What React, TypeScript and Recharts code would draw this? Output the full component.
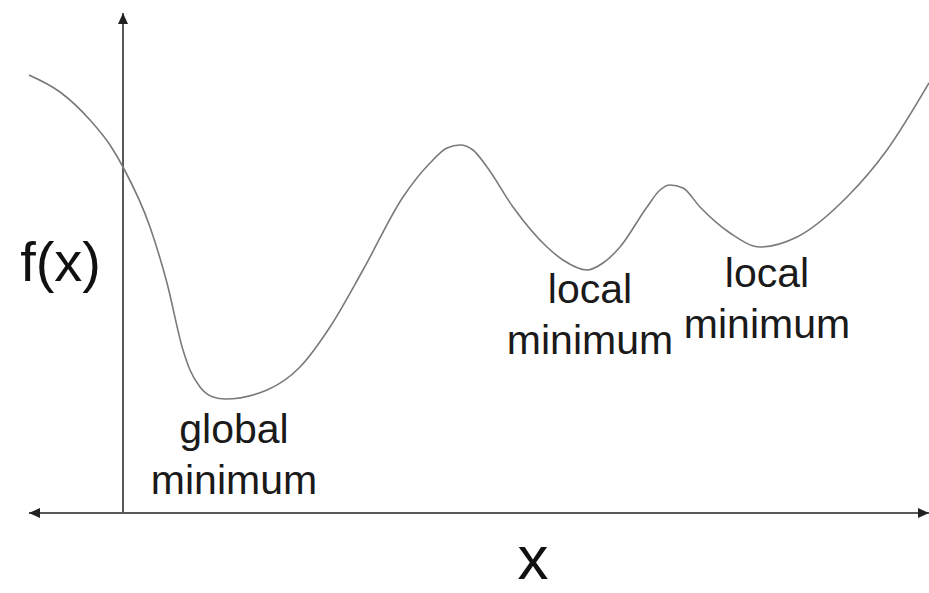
import React from 'react';
import { LineChart, Line, XAxis, YAxis, ReferenceLine, ReferenceDot } from 'recharts';

// curve readings: x measured from the f(x) axis, f(x) measured from the x axis
const xs = [
  -0.94, -0.63, -0.33, -0.13, 0, 0.27, 0.44, 0.6, 0.67, 0.77, 0.9, 1.02, 1.44, 1.77, 2.07, 2.4,
  2.8, 3.07, 3.24, 3.37, 3.5, 3.64, 3.9, 4.24, 4.4, 4.64, 4.8, 4.97, 5.24, 5.37, 5.47, 5.6,
  5.77, 6.07, 6.37, 6.74, 7.24, 7.64, 8.06
];
const fx = [
  4.38, 4.21, 3.93, 3.68, 3.46, 2.86, 2.3, 1.63, 1.43, 1.26, 1.16, 1.14, 1.23, 1.46, 1.86, 2.43,
  3.16, 3.5, 3.65, 3.68, 3.63, 3.46, 3.06, 2.66, 2.53, 2.43, 2.5, 2.66, 3.06, 3.23, 3.28, 3.25,
  3.06, 2.8, 2.66, 2.76, 3.16, 3.63, 4.3
];

const X_DOMAIN: [number, number] = [-0.94, 8.06];
const Y_DOMAIN: [number, number] = [0, 5];

const minima = [
  { x: 1.02, y: 1.14, lines: ['global', 'minimum'] },
  { x: 4.64, y: 2.43, lines: ['local', 'minimum'] },
  { x: 6.37, y: 2.66, lines: ['local', 'minimum'] },
];

const data = xs.map((x, i) => ({ x, y: fx[i] }));

const FONT = '"Liberation Sans", Arial, sans-serif';
const AXIS = '#5a5a5a';
const CURVE = '#7a7a7a';

// label offsets (px) from each minimum point
const labelOffsets = [
  { dx: 9, dy: 44 },
  { dx: 3, dy: 33 },
  { dx: 7, dy: 40 },
];

const MinLabel = (props: any) => {
  const { cx, cy, idx, lines } = props;
  const off = labelOffsets[idx];
  return (
    <text
      x={cx + off.dx}
      y={cy + off.dy}
      textAnchor="middle"
      fontFamily={FONT}
      fontSize={41}
      fill="#1a1a1a"
    >
      {lines.map((l: string, i: number) => (
        <tspan key={i} x={cx + off.dx} dy={i === 0 ? 0 : 51}>
          {l}
        </tspan>
      ))}
    </text>
  );
};

const Arrow = ({ cx, cy, dir }: any) => {
  let pts = '';
  if (dir === 'up') pts = `${cx},${cy} ${cx - 5},${cy + 11} ${cx + 5},${cy + 11}`;
  if (dir === 'left') pts = `${cx},${cy} ${cx + 11},${cy - 5} ${cx + 11},${cy + 5}`;
  if (dir === 'right') pts = `${cx},${cy} ${cx - 11},${cy - 5} ${cx - 11},${cy + 5}`;
  return <polygon points={pts} fill="#222" />;
};

export default function App() {
  return (
    <div style={{ position: 'absolute', left: 0, top: 0, width: 929, height: 593, background: '#fff' }}>
      <LineChart
        width={929}
        height={593}
        data={data}
        margin={{ top: 13, right: 0, bottom: 80, left: 29 }}
      >
        <XAxis type="number" dataKey="x" domain={X_DOMAIN} hide allowDataOverflow />
        <YAxis type="number" domain={Y_DOMAIN} hide allowDataOverflow />

        <ReferenceLine
          y={0}
          stroke={AXIS}
          strokeWidth={2}
          ifOverflow="visible"
          label={({ viewBox }: any) => (
            <text
              x={viewBox.x + 504}
              y={viewBox.y + 66}
              textAnchor="middle"
              fontFamily={FONT}
              fontSize={62}
              fill="#111"
            >
              x
            </text>
          )}
        />
        <ReferenceLine
          x={0}
          stroke={AXIS}
          strokeWidth={2}
          ifOverflow="visible"
          label={({ viewBox }: any) => (
            <text
              x={viewBox.x - 22}
              y={viewBox.y + 268}
              textAnchor="end"
              fontFamily={FONT}
              fontSize={56}
              fill="#111"
            >
              f(x)
            </text>
          )}
        />

        <ReferenceDot x={0} y={Y_DOMAIN[1]} ifOverflow="visible" shape={(p: any) => <Arrow {...p} dir="up" />} />
        <ReferenceDot x={X_DOMAIN[0]} y={0} ifOverflow="visible" shape={(p: any) => <Arrow {...p} dir="left" />} />
        <ReferenceDot x={X_DOMAIN[1]} y={0} ifOverflow="visible" shape={(p: any) => <Arrow {...p} dir="right" />} />

        <Line
          type="monotone"
          dataKey="y"
          stroke={CURVE}
          strokeWidth={1.6}
          dot={false}
          isAnimationActive={false}
        />

        {minima.map((m, i) => (
          <ReferenceDot
            key={i}
            x={m.x}
            y={m.y}
            ifOverflow="visible"
            shape={(p: any) => <MinLabel {...p} idx={i} lines={m.lines} />}
          />
        ))}
      </LineChart>
    </div>
  );
}
